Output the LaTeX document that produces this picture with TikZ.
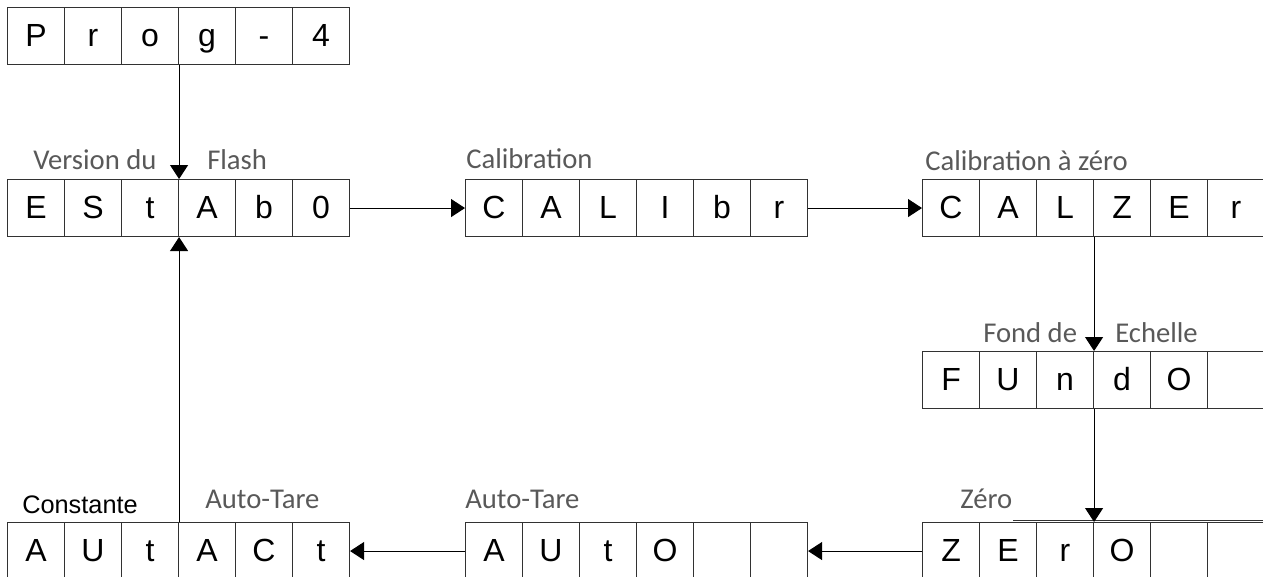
\documentclass[tikz,border=0pt]{standalone}
\usepackage{fontspec}
\setmainfont{Liberation Sans}
\newfontfamily\labfont{Carlito}
\usetikzlibrary{arrows.meta}
\definecolor{labgray}{RGB}{89,89,89}
\definecolor{linecol}{RGB}{50,50,50}
\tikzset{
 cell/.style={draw=linecol, line width=0.8pt, minimum width=42.75pt, minimum height=42.75pt, inner sep=0pt, anchor=north west, font=\fontsize{24}{26}\selectfont, text height=17pt, text depth=1.5pt},
 lab/.style={anchor=base west, inner sep=0pt, text=labgray, font=\labfont\fontsize{21.5}{24}\selectfont},
 conn/.style={draw=black, line width=0.8pt, -{Triangle[length=10.5pt,width=13.5pt]}},
}
\newcommand\cellrow[4]{%
  \foreach \l [count=\i] in {#4} {\node[cell] (#1\i) at ({#2+(\i-1)*57},#3) {\l};}%
}
\begin{document}
\begin{tikzpicture}[x=0.75pt,y=-0.75pt]
\useasboundingbox (0,0) rectangle (1263,576);
\cellrow{p}{7}{7}{P,r,o,g,-,4}
\cellrow{e}{7}{179}{E,S,t,A,b,0}
\cellrow{c}{465}{179}{C,A,L,I,b,r}
\cellrow{z}{922}{179}{C,A,L,Z,E,r}
\cellrow{f}{922}{351}{F,U,n,d,O,{}}
\cellrow{r}{922}{522}{Z,E,r,O,{},{}}
\cellrow{o}{465}{522}{A,U,t,O,{},{}}
\cellrow{a}{7}{522}{A,U,t,A,C,t}
\draw[linecol, line width=0.8pt] (1013,520.5) -- (1263,520.5);
% labels
\node[lab] (l1) at (33,169) {Version du};
\node[lab] (l2) at (207,169) {Flash};
\node[lab] (l3) at (466,168) {Calibration};
\node[lab] (l4) at (925,170) {Calibration à zéro};
\node[lab] (l5) at (983,342) {Fond de};
\node[lab] (l6) at (1115,342) {Echelle};
\node[lab, text=black, font=\fontsize{19}{22}\selectfont] (l7) at (22,513) {Constante};
\node[lab] (l8) at (205,508) {Auto-Tare};
\node[lab] (l9) at (465,508) {Auto-Tare};
\node[lab] (l10) at (960,508) {Zéro};
% connectors
\draw[conn] (p3.south east) -- (e3.north east);
\draw[conn] (e6.east) -- (c1.west);
\draw[conn] (c6.east) -- (z1.west);
\draw[conn] (z3.south east) -- (f3.north east);
\draw[conn] (f3.south east) -- (r3.north east);
\draw[conn] (r1.west) -- (o6.east);
\draw[conn] (o1.west) -- (a6.east);
\draw[conn] (a3.north east) -- (e3.south east);
\end{tikzpicture}
\end{document}
